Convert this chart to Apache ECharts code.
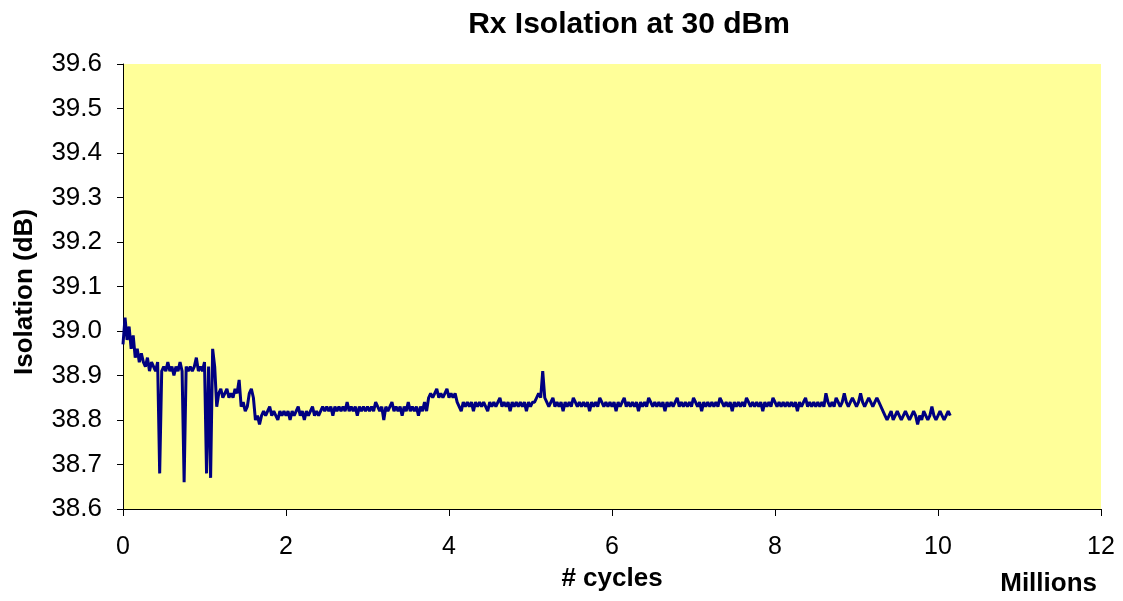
<!DOCTYPE html>
<html>
<head>
<meta charset="utf-8">
<script src="https://cdn.jsdelivr.net/npm/echarts@6/dist/echarts.min.js"></script>
<style>
html,body{margin:0;padding:0;background:#fff;}
#chart{width:1123px;height:601px;}
</style>
</head>
<body>
<div id="chart"></div>
<script>
// Samples are taken every 0.025 million cycles, starting at 0.
const cycleStepMillions = 0.025;

// Isolation (dB), segment by segment
const isoStart = [38.97,39.03,38.98,39.01,38.96,38.99,38.94,38.96,38.93,38.95,
  38.93,38.92,38.94,38.91,38.93,38.92,38.91,38.93];
const isoPlateau1 = [38.68,38.91,38.92,38.91,38.93,38.91,38.92,38.90,38.92,38.91,
  38.93,38.91,38.66,38.92,38.91,38.92,38.91,38.92,38.94,38.91,
  38.92,38.91,38.93,38.68,38.92,38.67,38.96,38.92,38.83];
const isoStep2 = [38.86,38.87,38.85,38.86,38.87,38.85,38.86,38.85,38.87,38.86,
  38.89,38.83,38.84,38.82,38.83,38.86,38.87,38.85];
const isoLow = [38.80,38.81,38.79,38.81,
  38.82,38.81,38.82,38.83,38.81,38.82,38.81,38.80,38.82,38.81,
  38.82,38.81,38.82,38.80,38.82,38.81,38.82,38.83,38.81,38.82,
  38.80,38.82,38.81,38.82,38.83,38.81,38.82,38.81,38.82,38.83];
const isoMid = [38.82,38.83,38.82,38.83,38.81,38.83,38.82,38.83,38.82,38.83,
  38.82,38.84,38.82,38.83,38.82,38.83,38.81,38.83,38.82,38.83,
  38.82,38.83,38.82,38.83,38.82,38.84,38.83,38.82,38.83,38.80,
  38.83,38.82,38.83,38.84,38.82,38.83,38.82,38.83,38.81,38.83,
  38.82,38.84,38.82,38.83,38.82,38.83,38.81,38.83,38.82,38.84,38.82];
const isoBump = [38.85,38.86,38.85,38.86,38.87,38.85,38.86,38.85,38.86,38.87,
  38.85,38.86,38.85,38.86];
const isoMid2 = [38.84,38.83,38.82,38.84,38.83,38.84,38.83,38.84,38.82,38.84,
  38.83,38.84,38.83,38.84,38.83,38.82,38.84,38.83,38.84,38.83,
  38.84,38.85,38.83,38.84,38.83,38.84,38.82,38.84,38.83,38.84,
  38.83,38.84,38.83,38.84,38.82,38.84,38.83,38.84,38.84];
const isoSpike = [38.85,38.86,38.85,38.91,38.85];
const isoLong = [
  38.84,38.83,38.84,38.85,38.83,38.84,38.83,38.84,38.82,38.84,
  38.83,38.84,38.83,38.85,38.84,38.83,38.84,38.83,38.84,38.83,
  38.84,38.82,38.84,38.83,38.84,38.83,38.85,38.84,38.83,38.84,
  38.83,38.84,38.83,38.84,38.82,38.84,38.83,38.84,38.85,38.83,
  38.84,38.83,38.84,38.83,38.84,38.82,38.84,38.83,38.84,38.83,
  38.85,38.84,38.83,38.84,38.83,38.84,38.83,38.84,38.82,38.84,
  38.83,38.84,38.83,38.84,38.85,38.83,38.84,38.83,38.84,38.83,
  38.84,38.83,38.85,38.84,38.83,38.84,38.82,38.84,38.83,38.84,
  38.83,38.84,38.83,38.84,38.83,38.85,38.84,38.83,38.84,38.83,
  38.84,38.82,38.84,38.83,38.84,38.83,38.84,38.83,38.85,38.84,
  38.83,38.84,38.83,38.84,38.83,38.84,38.82,38.84,38.83,38.84,
  38.83,38.85,38.84,38.83,38.84,38.83,38.84,38.83,38.84,38.83,
  38.84,38.83,38.84,38.82,38.84,38.83,38.84,38.85,38.83,38.84,
  38.83,38.84,38.83,38.84,38.83,38.84,38.83,38.86,38.84,38.83,
  38.84,38.83,38.85,38.84,38.83,38.84,38.86,38.84,38.83,38.84,
  38.85,38.84,38.83,38.84,38.86,38.84,38.83,38.84,38.85,38.84,
  38.83,38.84,38.85,38.84,38.83];
const isoEnd = [38.82,38.81,38.80,38.81,38.82,38.80,38.81,38.82,38.81,38.80,
  38.81,38.82,38.81,38.80,38.81,38.82,38.81,38.79,38.81,38.80,
  38.82,38.81,38.80,38.81,38.83,38.81,38.80,38.81,38.82,38.81,
  38.80,38.81,38.82,38.81];

const yTicks = [38.6,38.7,38.8,38.9,39.0,39.1,39.2,39.3,39.4,39.5,39.6];
const xTicks = [0,2,4,6,8,10,12];

const isolation = [].concat(isoStart, isoPlateau1, isoStep2, isoLow, isoMid,
  isoBump, isoMid2, isoSpike, isoLong, isoEnd);
const seriesData = isolation.map((v, i) => [i * cycleStepMillions, v]);

const chart = echarts.init(document.getElementById('chart'), null, {renderer: 'canvas'});
const font = 'Arial, "Liberation Sans", sans-serif';
chart.setOption({
  animation: false,
  backgroundColor: '#ffffff',
  title: {
    text: 'Rx Isolation at 30 dBm',
    left: 624, top: 5, textAlign: 'center',
    textStyle: {fontFamily: font, fontSize: 30, fontWeight: 'bold', color: '#000'}
  },
  grid: {
    left: 123, right: 22, top: 64, bottom: 92,
    containLabel: false, outerBoundsMode: 'none',
    show: true, backgroundColor: '#FFFF99', borderWidth: 0
  },
  xAxis: {
    type: 'value', min: xTicks[0], max: xTicks[xTicks.length - 1], interval: 2,
    name: '# cycles', nameLocation: 'middle', nameGap: 57,
    nameTextStyle: {fontFamily: font, fontSize: 26, fontWeight: 'bold', color: '#000'},
    axisLine: {show: true, lineStyle: {color: '#000', width: 1}},
    axisTick: {show: true, inside: false, length: 7, lineStyle: {color: '#000'}},
    axisLabel: {fontFamily: font, fontSize: 25, color: '#000', margin: 26},
    splitLine: {show: false}
  },
  yAxis: {
    type: 'value', min: yTicks[0], max: yTicks[yTicks.length - 1], interval: 0.1,
    axisLine: {show: true, lineStyle: {color: '#000', width: 1}},
    axisTick: {show: true, inside: false, length: 6, lineStyle: {color: '#000'}},
    axisLabel: {fontFamily: font, fontSize: 26, color: '#000', margin: 21,
      formatter: v => v.toFixed(1)},
    splitLine: {show: false}
  },
  graphic: [{
    type: 'text', x: 25, y: 292, rotation: Math.PI / 2,
    style: {text: 'Isolation (dB)', font: 'bold 26px ' + font, fill: '#000',
      align: 'center', verticalAlign: 'middle'}
  }, {
    type: 'text', right: 26, top: 571,
    style: {text: 'Millions', font: 'bold 26px ' + font, fill: '#000'}
  }],
  series: [{
    type: 'line', data: seriesData, showSymbol: false, symbol: 'none',
    sampling: false, smooth: false,
    lineStyle: {color: '#000080', width: 3}
  }]
});
</script>
</body>
</html>
